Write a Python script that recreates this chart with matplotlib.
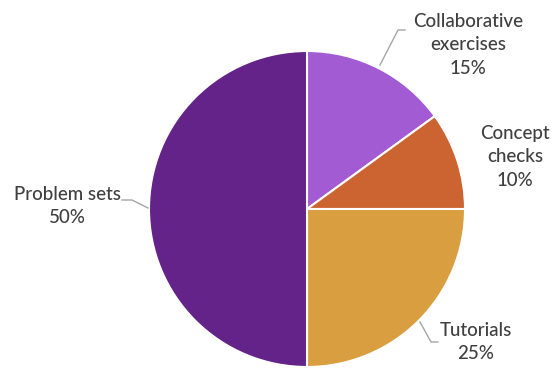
import matplotlib.pyplot as plt

categories = ['Collaborative\nexercises', 'Concept\nchecks', 'Tutorials', 'Problem sets']
shares = [15, 10, 25, 50]
colors = ['#A25BD2', '#CC6432', '#D99E3F', '#632388']

fig = plt.figure(figsize=(5.59, 3.68), dpi=100)
ax = fig.add_axes([0, 0, 1, 1])

ax.pie(shares, colors=colors, startangle=90, counterclock=False,
       center=(307, 159), radius=158, frame=True,
       wedgeprops=dict(edgecolor='white', linewidth=1.5))
ax.set_xlim(0, 559)
ax.set_ylim(0, 368)
ax.set_aspect('equal')
ax.axis('off')

txt = dict(ha='center', va='center', fontsize=13.5, color='#404040',
           family='Lato', weight='medium', linespacing=1.45)
# label positions (pixel coords, y up)
label_pos = [(468, 323), (515, 211), (476, 26), (67, 162)]
for name, val, (x, y) in zip(categories, shares, label_pos):
    ax.text(x, y, f'{name}\n{val}%', **txt)

# leader lines
lc = '#A6A6A6'
ax.plot([380, 398, 405], [368 - 65, 368 - 30, 368 - 30], color=lc, lw=1)
ax.plot([420, 431, 438], [368 - 322, 368 - 342, 368 - 342], color=lc, lw=1)
ax.plot([122, 132, 148], [368 - 200, 368 - 200, 368 - 208], color=lc, lw=1)

fig.savefig('out.png', dpi=100)
